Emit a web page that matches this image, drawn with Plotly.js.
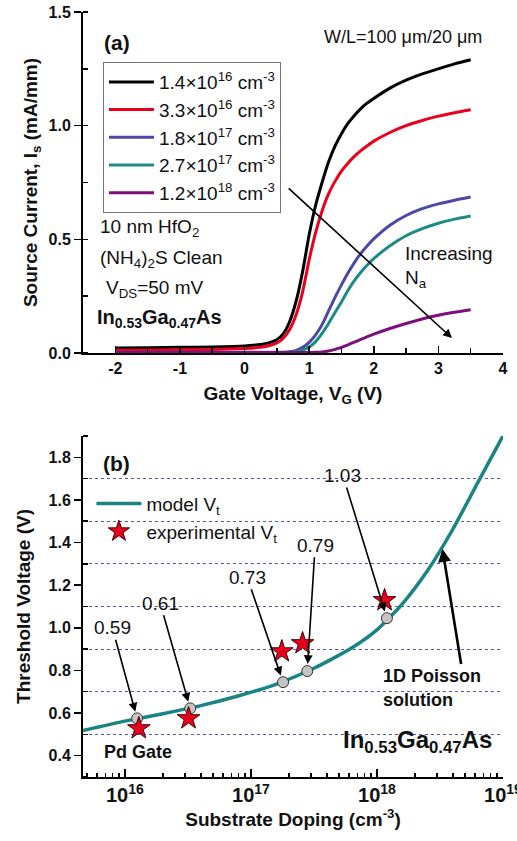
<!DOCTYPE html>
<html>
<head>
<meta charset="utf-8">
<script src="https://cdn.plot.ly/plotly-3.0.1.min.js"></script>
<style>html,body{margin:0;padding:0;background:#fff;}#chart{width:517px;height:841px;}</style>
</head>
<body>
<div id="chart"></div>
<script>
// ---------- Panel (a): Source current vs gate voltage ----------
const Vg = [-2, -1.5, -1, -0.5, 0, 0.2, 0.3, 0.4, 0.5, 0.6, 0.7, 0.8, 0.9, 1.0, 1.1, 1.2, 1.3, 1.4, 1.5, 1.6, 1.7, 1.8, 1.9, 2.0, 2.25, 2.5, 2.75, 3.0, 3.25, 3.5];
const Is_1p4e16 = [0.022, 0.023, 0.025, 0.027, 0.031, 0.036, 0.04, 0.047, 0.058, 0.085, 0.14, 0.23, 0.36, 0.52, 0.65, 0.75, 0.84, 0.91, 0.965, 1.01, 1.045, 1.075, 1.10, 1.12, 1.165, 1.20, 1.228, 1.25, 1.272, 1.29];
const Is_3p3e16 = [0.012, 0.013, 0.014, 0.016, 0.02, 0.024, 0.028, 0.034, 0.044, 0.065, 0.105, 0.17, 0.27, 0.41, 0.53, 0.625, 0.70, 0.755, 0.80, 0.835, 0.865, 0.89, 0.912, 0.932, 0.97, 1.0, 1.023, 1.042, 1.057, 1.07];
const Is_1p8e17 = [0.003, 0.003, 0.003, 0.003, 0.003, 0.003, 0.003, 0.003, 0.003, 0.004, 0.006, 0.012, 0.025, 0.047, 0.08, 0.125, 0.185, 0.245, 0.30, 0.352, 0.398, 0.438, 0.472, 0.502, 0.562, 0.605, 0.635, 0.656, 0.672, 0.686];
const Is_2p7e17 = [0.002, 0.002, 0.002, 0.002, 0.002, 0.002, 0.002, 0.002, 0.002, 0.002, 0.003, 0.006, 0.013, 0.026, 0.05, 0.086, 0.13, 0.178, 0.225, 0.275, 0.318, 0.355, 0.387, 0.415, 0.472, 0.516, 0.547, 0.571, 0.589, 0.603];
const Is_1p2e18 = [0.002, 0.002, 0.002, 0.002, 0.002, 0.002, 0.002, 0.002, 0.002, 0.002, 0.002, 0.002, 0.002, 0.002, 0.003, 0.005, 0.009, 0.016, 0.025, 0.036, 0.048, 0.06, 0.072, 0.083, 0.108, 0.13, 0.15, 0.166, 0.179, 0.19];
const dopingNames = ['1.4×10<sup>16</sup> cm<sup>-3</sup>', '3.3×10<sup>16</sup> cm<sup>-3</sup>', '1.8×10<sup>17</sup> cm<sup>-3</sup>', '2.7×10<sup>17</sup> cm<sup>-3</sup>', '1.2×10<sup>18</sup> cm<sup>-3</sup>'];
const VgTickVals = [-2, -1, 0, 1, 2, 3, 4];
const VgTickText = ['-2', '-1', '0', '1', '2', '3', '4'];

// ---------- Panel (b): Threshold voltage vs substrate doping ----------
const NaModel = [4.65e15, 1e16, 2e16, 4e16, 7.9e16, 1.58e17, 3.16e17, 6.3e17, 1e18, 1.58e18, 2.5e18, 3.98e18, 6.3e18, 1e19];
const VtModel = [0.518, 0.562, 0.597, 0.635, 0.68, 0.735, 0.81, 0.905, 0.99, 1.11, 1.265, 1.46, 1.68, 1.90];
const NaSim = [1.25e16, 3.3e16, 1.8e17, 2.8e17, 1.2e18];
const VtSim = [0.575, 0.622, 0.745, 0.797, 1.045];
const VtSimLabels = ['0.59', '0.61', '0.73', '0.79', '1.03'];
const NaExp = [1.29e16, 3.2e16, 1.76e17, 2.57e17, 1.15e18];
const VtExp = [0.528, 0.575, 0.889, 0.927, 1.129];

// ---------- styles ----------
const FONT = 'Liberation Sans, Arial, Helvetica, sans-serif';
const seriesColors = ['#000000', '#e8001c', '#4b48a8', '#1d8a87', '#7d0f7a'];
const teal = '#1a8383';
const series = [Is_1p4e16, Is_3p3e16, Is_1p8e17, Is_2p7e17, Is_1p2e18];

const traces = series.map((ys, i) => ({
  type: 'scatter', mode: 'lines', x: Vg, y: ys, name: dopingNames[i],
  line: {color: seriesColors[i], width: 3, shape: 'spline', smoothing: 0.5},
  xaxis: 'x', yaxis: 'y', legend: 'legend'
}));

traces.push({
  type: 'scatter', mode: 'lines', x: NaModel, y: VtModel, name: 'model V<sub>t</sub>',
  line: {color: teal, width: 3.5, shape: 'spline', smoothing: 0.6},
  xaxis: 'x2', yaxis: 'y2', legend: 'legend2'
});
traces.push({
  type: 'scatter', mode: 'markers', x: NaSim, y: VtSim, showlegend: false,
  marker: {symbol: 'circle', size: 11, color: '#c4c4c4', line: {color: '#333', width: 1}},
  xaxis: 'x2', yaxis: 'y2'
});
traces.push({
  type: 'scatter', mode: 'markers', x: NaExp, y: VtExp, name: 'experimental V<sub>t</sub>',
  marker: {symbol: 'star', size: 17, color: '#e8001c', line: {color: '#400', width: 1}},
  xaxis: 'x2', yaxis: 'y2', legend: 'legend2'
});

const tickFont = {family: FONT, size: 16, color: '#111', weight: 'bold'};
const titleFont = {family: FONT, size: 19, color: '#111', weight: 'bold'};
const lineCommon = {showline: true, linecolor: '#000', linewidth: 2, tickcolor: '#000', tickwidth: 1.5, zeroline: false, showgrid: false};

const topDomain = [0.5542, 1];
const botDomain = [0, 0.4458];
const xRangeB = [Math.log10(4.65e15), 19.0005];

const layout = {
  width: 517, height: 841,
  margin: {l: 83, r: 14, t: 12, b: 64},
  paper_bgcolor: '#fff', plot_bgcolor: '#fff',
  font: {family: FONT, color: '#111'},
  xaxis: Object.assign({}, lineCommon, {
    domain: [0, 1], anchor: 'y', range: [-2.5, 4], tickvals: VgTickVals, ticktext: VgTickText,
    ticks: 'inside', ticklen: 7, tickfont: tickFont, ticklabeloverflow: 'allow',
    minor: {ticks: 'inside', ticklen: 5, tick0: 0, dtick: 0.5, tickcolor: '#000', tickwidth: 1.5},
    title: {text: 'Gate Voltage, V<sub>G</sub> (V)', font: titleFont, standoff: 10}
  }),
  yaxis: Object.assign({}, lineCommon, {
    domain: topDomain, anchor: 'x', range: [0, 1.5], dtick: 0.5, tickformat: '.1f',
    ticks: 'outside', ticklen: 7, tickfont: tickFont,
    minor: {ticks: 'inside', ticklen: 5, dtick: 0.25, tickcolor: '#000', tickwidth: 1.5},
    title: {text: 'Source Current, I<sub>s</sub> (mA/mm)', font: titleFont, standoff: 6}
  }),
  xaxis3: Object.assign({}, lineCommon, {
    overlaying: 'x', side: 'top', anchor: 'y', range: [-2.5, 4], dtick: 1, tick0: 0,
    ticks: 'inside', ticklen: 7, showticklabels: false,
    minor: {ticks: 'inside', ticklen: 5, dtick: 0.5, tickcolor: '#000', tickwidth: 1.5}
  }),
  yaxis3: Object.assign({}, lineCommon, {
    overlaying: 'y', side: 'right', anchor: 'x', range: [0, 1.5], dtick: 0.5,
    ticks: 'inside', ticklen: 7, showticklabels: false,
    minor: {ticks: 'inside', ticklen: 5, dtick: 0.25, tickcolor: '#000', tickwidth: 1.5}
  }),
  xaxis2: Object.assign({}, lineCommon, {
    domain: [0, 1], anchor: 'y2', type: 'log', range: xRangeB, dtick: 1,
    exponentformat: 'power', ticks: 'inside', ticklen: 8, tickfont: tickFont, ticklabeloverflow: 'allow',
    minor: {ticks: 'inside', ticklen: 4, dtick: 'D1', tickcolor: '#000', tickwidth: 1.5},
    title: {text: 'Substrate Doping (cm<sup>-3</sup>)', font: titleFont, standoff: 6}
  }),
  yaxis2: Object.assign({}, lineCommon, {
    domain: botDomain, anchor: 'x2', range: [0.3, 1.9], dtick: 0.2, tick0: 0, tickformat: '.1f',
    ticks: 'outside', ticklen: 7, tickfont: tickFont,
    minor: {ticks: 'inside', ticklen: 5, tick0: 0.1, dtick: 0.2, tickcolor: '#000', tickwidth: 1.5,
            showgrid: true, gridcolor: '#5555b0', griddash: 'dot', gridwidth: 1},
    title: {text: 'Threshold Voltage (V)', font: titleFont, standoff: 13}
  }),
  xaxis4: Object.assign({}, lineCommon, {
    overlaying: 'x2', side: 'top', anchor: 'y2', type: 'log', range: xRangeB, dtick: 1,
    ticks: 'inside', ticklen: 8, showticklabels: false,
    minor: {ticks: 'inside', ticklen: 4, dtick: 'D1', tickcolor: '#000', tickwidth: 1.5}
  }),
  yaxis4: Object.assign({}, lineCommon, {
    overlaying: 'y2', side: 'right', anchor: 'x2', range: [0.3, 1.9], dtick: 0.1, tick0: 0,
    ticks: 'inside', ticklen: 6, showticklabels: false
  }),
  legend: {
    x: 0.0476, y: 0.9346, xanchor: 'left', yanchor: 'top',
    bgcolor: '#fff', bordercolor: '#777', borderwidth: 1,
    font: {family: FONT, size: 19, color: '#111'}, itemwidth: 45, tracegroupgap: 0
  },
  legend2: {
    x: 0.02, y: 0.382, xanchor: 'left', yanchor: 'top',
    bgcolor: 'rgba(255,255,255,0)', borderwidth: 0,
    font: {family: FONT, size: 19, color: '#111'}, itemwidth: 45
  },
  annotations: []
};

const A = layout.annotations;
const txt = (o) => A.push(Object.assign({showarrow: false, font: {family: FONT, size: 19, color: '#111'}}, o));
// panel (a) text
txt({xref: 'x', yref: 'y', x: -1.97, y: 1.365, text: '<b>(a)</b>', font: {family: FONT, size: 21, color: '#111'}});
txt({xref: 'x', yref: 'y', x: 2.46, y: 1.39, text: 'W/L=100 μm/20 μm', font: {family: FONT, size: 18, color: '#111'}});
txt({xref: 'x', yref: 'y', x: -2.27, y: 0.55, xanchor: 'left', text: '10 nm HfO<sub>2</sub>'});
txt({xref: 'x', yref: 'y', x: -2.27, y: 0.415, xanchor: 'left', text: '(NH<sub>4</sub>)<sub>2</sub>S Clean'});
txt({xref: 'x', yref: 'y', x: -2.17, y: 0.28, xanchor: 'left', text: 'V<sub>DS</sub>=50 mV'});
txt({xref: 'x', yref: 'y', x: -2.32, y: 0.15, xanchor: 'left', text: '<b>In<sub>0.53</sub>Ga<sub>0.47</sub>As</b>', font: {family: FONT, size: 20, color: '#111'}});
txt({xref: 'x', yref: 'y', x: 2.45, y: 0.44, xanchor: 'left', text: 'Increasing'});
txt({xref: 'x', yref: 'y', x: 2.45, y: 0.325, xanchor: 'left', text: 'N<sub>a</sub>'});
A.push({xref: 'x', yref: 'y', axref: 'x', ayref: 'y', x: 3.21, y: 0.066, ax: 0.66, ay: 0.73, text: '',
  showarrow: true, arrowhead: 2, arrowsize: 1.1, arrowwidth: 1.6, arrowcolor: '#000'});

// panel (b) text
txt({xref: 'x2', yref: 'y2', x: 15.93, y: 1.772, text: '<b>(b)</b>', font: {family: FONT, size: 21, color: '#111'}});
txt({xref: 'x2', yref: 'y2', x: 16.1, y: 0.415, text: '<b>Pd Gate</b>', font: {family: FONT, size: 18, color: '#111'}});
txt({xref: 'x2', yref: 'y2', x: 18.03, y: 0.776, xanchor: 'left', text: '<b>1D Poisson</b>', font: {family: FONT, size: 18, color: '#111'}});
txt({xref: 'x2', yref: 'y2', x: 18.03, y: 0.659, xanchor: 'left', text: '<b>solution</b>', font: {family: FONT, size: 18, color: '#111'}});
txt({xref: 'x2', yref: 'y2', x: 18.93, y: 0.465, xanchor: 'right', text: '<b>In<sub>0.53</sub>Ga<sub>0.47</sub>As</b>', font: {family: FONT, size: 24, color: '#111'}});
A.push({xref: 'x2', yref: 'y2', axref: 'x2', ayref: 'y2', x: 18.52, y: 1.37, ax: 18.67, ay: 0.823, text: '',
  showarrow: true, arrowhead: 2, arrowsize: 1, arrowwidth: 2.6, arrowcolor: '#000'});

// labelled arrows to model values
const labelLogX = [15.9, 16.28, 16.97, 17.51, 17.73];
const labelY = [1.0, 1.115, 1.237, 1.387, 1.715];
VtSimLabels.forEach((lab, i) => {
  A.push({xref: 'x2', yref: 'y2', axref: 'x2', ayref: 'y2',
    x: Math.log10(NaSim[i]), y: VtSim[i], ax: labelLogX[i], ay: labelY[i],
    text: lab, font: {family: FONT, size: 19, color: '#111'},
    showarrow: true, arrowhead: 2, arrowsize: 1.1, arrowwidth: 1.6, arrowcolor: '#000', standoff: 7});
});

Plotly.newPlot('chart', traces, layout, {displayModeBar: false, staticPlot: true});
</script>
</body>
</html>
